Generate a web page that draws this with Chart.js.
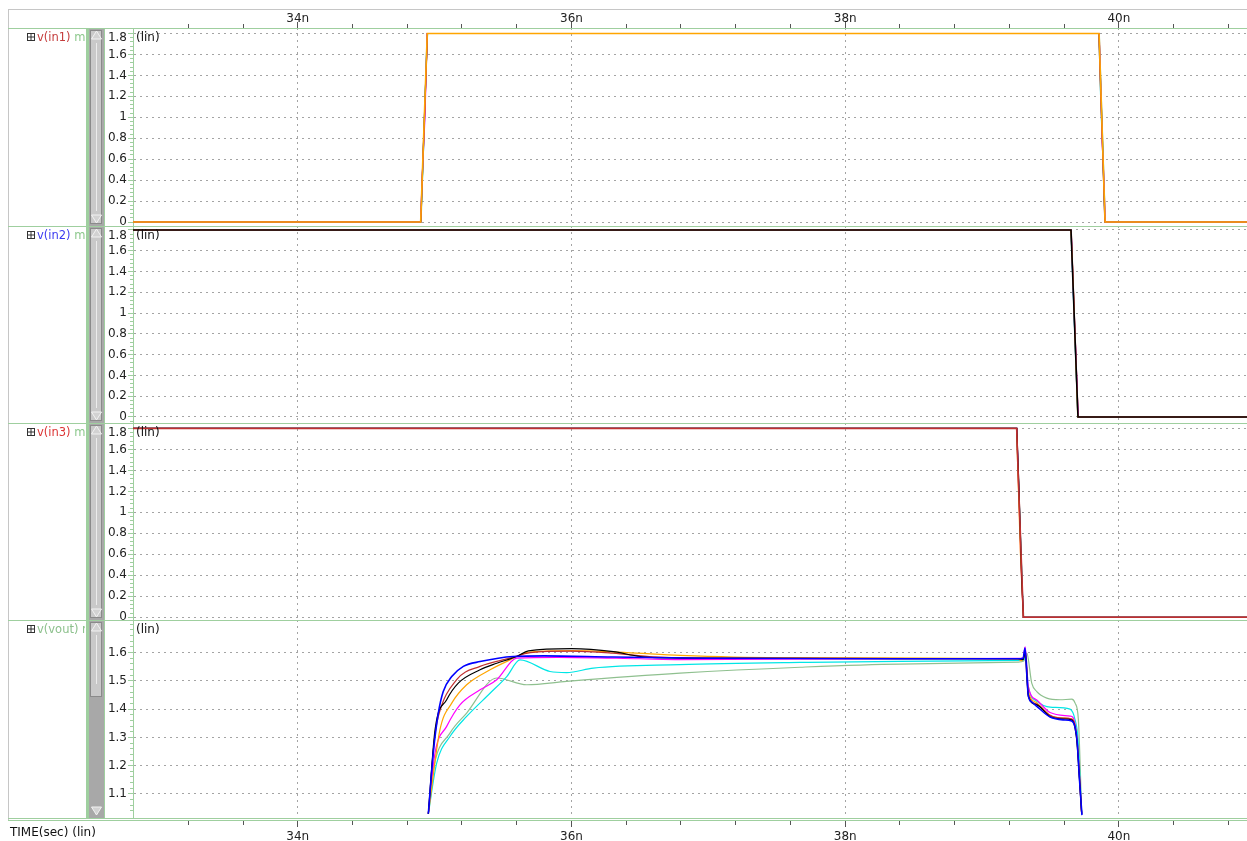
<!DOCTYPE html>
<html>
<head>
<meta charset="utf-8">
<script src="https://cdn.jsdelivr.net/npm/chart.js@4.4.0/dist/chart.umd.min.js"></script>
<style>
  html, body { margin: 0; padding: 0; background: #fff; }
  #wrap { position: relative; width: 1247px; height: 841px; overflow: hidden; }
  #wrap canvas { position: absolute; left: 0; }
</style>
</head>
<body>
<div id="wrap">
  <canvas id="p1" width="1247" height="226" style="top:0px"></canvas>
  <canvas id="p2" width="1247" height="197" style="top:226px"></canvas>
  <canvas id="p3" width="1247" height="197" style="top:423px"></canvas>
  <canvas id="p4" width="1247" height="221" style="top:620px"></canvas>
</div>
<script>
// --- data (time in ns, voltage in V) ---
const X_MIN = 32.796, X_MAX = 40.936;
const X_MAJOR = [34, 36, 38, 40];
const X_LABELS = ['34n', '36n', '38n', '40n'];

const Y_IN_TICKS = [0, 0.2, 0.4, 0.6, 0.8, 1, 1.2, 1.4, 1.6, 1.8];
const Y_IN_LABELS = ['0', '0.2', '0.4', '0.6', '0.8', '1', '1.2', '1.4', '1.6', '1.8'];
const Y_OUT_TICKS = [1.1, 1.2, 1.3, 1.4, 1.5, 1.6];
const Y_OUT_LABELS = ['1.1', '1.2', '1.3', '1.4', '1.5', '1.6'];

// v(in1)
const IN1_ORANGE  = [[32.7,0],[34.898,0],[34.946,1.8],[39.855,1.8],[39.899,0],[41,0]];
const IN1_RED     = [[32.7,0],[34.900,0],[34.915,0.62],[34.924,0.9],[34.948,1.8],[39.853,1.8],[39.866,1.25],[39.873,1.0],[39.897,0],[41,0]];
const IN1_MAGENTA = [[32.7,0],[34.897,0],[34.910,0.45],[34.930,1.02],[34.945,1.8],[39.856,1.8],[39.878,0.75],[39.889,0.45],[39.900,0],[41,0]];
const IN1_CYAN    = [[32.7,0],[34.899,0],[34.926,0.95],[34.940,1.6],[34.949,1.8],[39.854,1.8],[39.864,1.3],[39.870,1.05],[39.884,0.6],[39.898,0],[41,0]];
const IN1_GREEN   = [[32.7,0],[34.901,0],[34.947,1.8],[39.857,1.8],[39.901,0],[41,0]];
const IN1_BLACK   = [[32.7,0],[34.899,0],[34.947,1.8],[39.855,1.8],[39.899,0],[41,0]];
const IN1_BLUE    = [[32.7,0],[34.898,0],[34.947,1.8],[39.855,1.8],[39.898,0],[41,0]];

// v(in2)
const IN2_BLACK   = [[32.7,1.8],[39.650,1.8],[39.701,0],[41,0]];
const IN2_ORANGE  = [[32.7,1.8],[39.649,1.8],[39.657,1.58],[39.668,1.2],[39.699,0],[41,0]];
const IN2_MAGENTA = [[32.7,1.8],[39.651,1.8],[39.674,0.98],[39.686,0.58],[39.702,0],[41,0]];
const IN2_RED     = [[32.7,1.8],[39.652,1.8],[39.680,0.8],[39.703,0],[41,0]];
const IN2_CYAN    = [[32.7,1.8],[39.650,1.8],[39.690,0.36],[39.700,0],[41,0]];
const IN2_GREEN   = [[32.7,1.8],[39.651,1.8],[39.702,0],[41,0]];
const IN2_BLUE    = [[32.7,1.8],[39.650,1.8],[39.700,0],[41,0]];

// v(in3)
const IN3_RED     = [[32.7,1.8],[39.253,1.8],[39.262,1.45],[39.275,0.98],[39.302,0],[41,0]];
const IN3_BLACK   = [[32.7,1.8],[39.254,1.8],[39.258,1.65],[39.268,1.3],[39.290,0.35],[39.303,0],[41,0]];
const IN3_ORANGE  = [[32.7,1.8],[39.252,1.8],[39.280,0.62],[39.301,0],[41,0]];
const IN3_MAGENTA = [[32.7,1.8],[39.254,1.8],[39.283,0.55],[39.292,0.28],[39.302,0],[41,0]];
const IN3_GREEN   = [[32.7,1.8],[39.253,1.8],[39.300,0.05],[39.303,0],[41,0]];
const IN3_CYAN    = [[32.7,1.8],[39.253,1.8],[39.302,0],[41,0]];
const IN3_BLUE    = [[32.7,1.8],[39.253,1.8],[39.301,0],[41,0]];

// v(vout)
const VOUT_BLUE    = [[34.954,1.03],[34.990,1.245],[35.027,1.386],[35.063,1.462],[35.125,1.515],[35.210,1.551],[35.332,1.568],[35.575,1.586],[35.80,1.588],[36.30,1.584],[37.0,1.580],[38.4,1.578],[39.263,1.578],[39.300,1.580],[39.314,1.616],[39.326,1.53],[39.338,1.448],[39.363,1.425],[39.400,1.410],[39.497,1.372],[39.594,1.362],[39.655,1.358],[39.680,1.335],[39.694,1.29],[39.712,1.15],[39.730,1.025]];
const VOUT_BLACK   = [[34.954,1.03],[35.003,1.327],[35.088,1.433],[35.173,1.492],[35.332,1.539],[35.454,1.562],[35.600,1.586],[35.685,1.606],[36.002,1.614],[36.306,1.603],[36.501,1.586],[36.793,1.580],[38.4,1.578],[39.263,1.578],[39.300,1.575],[39.316,1.600],[39.338,1.445],[39.400,1.415],[39.497,1.374],[39.594,1.365],[39.655,1.362],[39.692,1.290],[39.712,1.15],[39.728,1.03]];
const VOUT_RED     = [[34.954,1.03],[35.000,1.30],[35.027,1.374],[35.161,1.504],[35.332,1.551],[35.550,1.580],[35.700,1.600],[36.000,1.605],[36.300,1.598],[36.600,1.585],[37.000,1.580],[39.263,1.578],[39.300,1.578],[39.316,1.605],[39.338,1.452],[39.400,1.418],[39.497,1.378],[39.594,1.368],[39.655,1.365],[39.692,1.30],[39.728,1.03]];
const VOUT_ORANGE  = [[34.954,1.03],[35.039,1.327],[35.125,1.421],[35.234,1.486],[35.405,1.539],[35.551,1.574],[35.673,1.600],[36.000,1.607],[36.400,1.600],[36.793,1.590],[37.500,1.582],[39.263,1.577],[39.290,1.571],[39.312,1.588],[39.338,1.462],[39.400,1.422],[39.497,1.378],[39.594,1.368],[39.655,1.366],[39.692,1.30],[39.728,1.03]];
const VOUT_MAGENTA = [[34.954,1.03],[35.003,1.245],[35.088,1.339],[35.185,1.415],[35.332,1.468],[35.454,1.504],[35.600,1.580],[35.900,1.583],[36.500,1.578],[36.793,1.575],[37.500,1.577],[39.263,1.579],[39.300,1.581],[39.315,1.620],[39.338,1.480],[39.400,1.432],[39.497,1.388],[39.643,1.375],[39.665,1.370],[39.695,1.29],[39.728,1.03]];
const VOUT_CYAN    = [[34.954,1.03],[35.015,1.209],[35.112,1.303],[35.234,1.374],[35.405,1.456],[35.527,1.515],[35.624,1.574],[35.843,1.533],[35.965,1.529],[36.160,1.545],[36.793,1.557],[37.670,1.565],[38.400,1.569],[39.263,1.572],[39.305,1.575],[39.318,1.600],[39.338,1.480],[39.400,1.428],[39.497,1.407],[39.643,1.400],[39.680,1.362],[39.700,1.30],[39.728,1.03]];
const VOUT_GREEN   = [[34.954,1.03],[34.990,1.185],[35.112,1.315],[35.234,1.386],[35.454,1.510],[35.673,1.486],[35.965,1.498],[36.793,1.527],[37.670,1.548],[38.400,1.559],[39.263,1.566],[39.305,1.570],[39.327,1.598],[39.363,1.492],[39.400,1.462],[39.473,1.439],[39.570,1.433],[39.655,1.435],[39.680,1.421],[39.704,1.362],[39.728,1.03]];

// --- styles ---
const COLORS = {
  red: '#c03030', black: '#000000', orange: '#ffa500', magenta: '#ff00ff',
  cyan: '#00e6e6', green: '#8fc08f', blue: '#0000ff'
};
const GREEN_LINE = '#9fcf9f';
const GRID = '#a4a4a4';

Chart.defaults.font.family = '"DejaVu Sans", sans-serif';
Chart.defaults.font.size = 12;
Chart.defaults.color = '#222';

// 先頭のデータセットが一番上に描かれる
const PANELS = [
  { id: 'p1', name: 'v(in1)', nameColor: '#c43c3c', tail: ' m', tailColor: '#8cc88c',
    yMin: -0.038, yMax: 1.8525, ticks: Y_IN_TICKS, labels: Y_IN_LABELS, minorStep: 0.04,
    axis: 'top', padTop: 10, axisH: 18, tickPad: 2, first: true,
    series: [['orange', IN1_ORANGE], ['red', IN1_RED], ['magenta', IN1_MAGENTA], ['cyan', IN1_CYAN],
             ['green', IN1_GREEN], ['black', IN1_BLACK], ['blue', IN1_BLUE]] },
  { id: 'p2', name: 'v(in2)', nameColor: '#3a3af0', tail: ' m', tailColor: '#8cc88c',
    yMin: -0.058, yMax: 1.8385, ticks: Y_IN_TICKS, labels: Y_IN_LABELS, minorStep: 0.04,
    axis: 'none', padTop: 0, axisH: 0, tickPad: 0,
    series: [['black', IN2_BLACK], ['orange', IN2_ORANGE], ['magenta', IN2_MAGENTA], ['red', IN2_RED],
             ['cyan', IN2_CYAN], ['green', IN2_GREEN], ['blue', IN2_BLUE]] },
  { id: 'p3', name: 'v(in3)', nameColor: '#dc3434', tail: ' m', tailColor: '#8cc88c',
    yMin: -0.026, yMax: 1.852, ticks: Y_IN_TICKS, labels: Y_IN_LABELS, minorStep: 0.04,
    axis: 'none', padTop: 0, axisH: 0, tickPad: 0,
    series: [['red', IN3_RED], ['black', IN3_BLACK], ['orange', IN3_ORANGE], ['magenta', IN3_MAGENTA],
             ['green', IN3_GREEN], ['cyan', IN3_CYAN], ['blue', IN3_BLUE]] },
  { id: 'p4', name: 'v(vout)', nameColor: '#8cc08c', tail: ' n', tailColor: '#8cc08c',
    yMin: 1.015, yMax: 1.715, ticks: Y_OUT_TICKS, labels: Y_OUT_LABELS, minorStep: 0.02,
    axis: 'bottom', padTop: 0, axisH: 23, tickPad: 12, last: true, thumbEnd: 77, noTopLabel: true,
    smooth: true,
    series: [['blue', VOUT_BLUE], ['black', VOUT_BLACK], ['red', VOUT_RED], ['orange', VOUT_ORANGE],
             ['magenta', VOUT_MAGENTA], ['cyan', VOUT_CYAN], ['green', VOUT_GREEN]] }
];

function drawArrow(ctx, tipY, baseY) {
  ctx.beginPath();
  ctx.moveTo(91.5, baseY);
  ctx.lineTo(101.5, baseY);
  ctx.lineTo(96.5, tipY);
  ctx.closePath();
  ctx.fillStyle = '#d2d2d2';
  ctx.fill();
  ctx.strokeStyle = '#f2f2f2';
  ctx.lineWidth = 1;
  ctx.stroke();
}

// --- 枠・スクロールバー・目盛りなどの装飾 ---
const framePlugin = {
  id: 'frame',
  afterDraw(chart, args, o) {
    const p = o.panel;
    const { ctx, width } = chart;
    const { top, bottom, left } = chart.chartArea;
    const ys = chart.scales.y, xs = chart.scales.x;
    ctx.save();

    // outer gray frame
    ctx.fillStyle = '#c6c6c6';
    const fTop = p.first ? 9 : 0;
    const fBot = p.last ? bottom + 3 : chart.height;
    ctx.fillRect(8, fTop, 1, fBot - fTop);
    if (p.first) ctx.fillRect(8, 9, width - 8, 1);

    // scrollbar
    ctx.fillStyle = '#a8a8a8';
    ctx.fillRect(89, top + 1, 15, bottom - top - 1);
    const t0 = top + 2, t1 = p.thumbEnd ? top + p.thumbEnd : bottom - 2;
    ctx.fillStyle = '#c9c9c9';
    ctx.fillRect(91, t0, 11, t1 - t0);
    ctx.strokeStyle = '#8a8a8a';
    ctx.lineWidth = 1;
    ctx.strokeRect(90.5, t0 + 0.5, 11, t1 - t0 - 1);
    ctx.strokeStyle = '#ececec';
    ctx.beginPath();
    ctx.moveTo(96.5, t0 + 13);
    ctx.lineTo(96.5, t1 - 13);
    ctx.stroke();
    drawArrow(ctx, top + 3, top + 11);
    drawArrow(ctx, bottom - 3, bottom - 11);

    // green lines
    ctx.fillStyle = GREEN_LINE;
    ctx.fillRect(86, top, 3, bottom - top);
    ctx.fillRect(104, top, 1, bottom - top);
    ctx.fillRect(8, top, width - 8, 1);
    if (p.last) {
      ctx.fillRect(8, bottom, width - 8, 1);
      ctx.fillRect(8, bottom + 2, width - 8, 1);
    }

    // y ticks
    for (let v = p.ticks[0] - 3 * p.minorStep; v < p.yMax; v += p.minorStep) {
      const y = Math.floor(ys.getPixelForValue(v));
      if (y > top + 1 && y < bottom) ctx.fillRect(left - 3, y, 3, 1);
    }
    ys.ticks.forEach(t => {
      const y = Math.floor(ys.getPixelForValue(t.value));
      ctx.fillRect(left - 5, y, 5, 1);
    });

    // x ticks
    ctx.fillStyle = '#555';
    const xMinor = [];
    for (let v = 33.2; v < X_MAX; v += 0.4) xMinor.push(v);
    if (p.first || p.last) {
      xMinor.forEach(v => {
        const x = Math.floor(xs.getPixelForValue(v));
        if (p.first) ctx.fillRect(x, top - 4, 1, 4);
        else ctx.fillRect(x, bottom + 3, 1, 4);
      });
      X_MAJOR.forEach(v => {
        const x = Math.floor(xs.getPixelForValue(v));
        if (p.first) ctx.fillRect(x, top - 6, 1, 6);
        else ctx.fillRect(x, bottom + 3, 1, 6);
      });
    }

    // texts
    const ly = top + 10;
    ctx.font = '12px "DejaVu Sans", sans-serif';
    ctx.textBaseline = 'middle';
    ctx.textAlign = 'left';
    ctx.fillStyle = '#111';
    ctx.fillText('(lin)', left + 3, ly);
    if (!p.noTopLabel) {
      ctx.textAlign = 'right';
      ctx.fillStyle = '#222';
      ctx.fillText(p.labels[p.labels.length - 1], left - 6, ly);
    }
    if (p.last) {
      ctx.textAlign = 'left';
      ctx.fillStyle = '#111';
      ctx.fillText('TIME(sec) (lin)', 10, bottom + 15);
    }

    // signal name (clipped at the green line)
    ctx.save();
    ctx.beginPath();
    ctx.rect(9, top + 1, 76, bottom - top - 1);
    ctx.clip();
    ctx.strokeStyle = '#333';
    ctx.lineWidth = 1;
    ctx.strokeRect(27.5, ly - 4.5, 7, 7);
    ctx.beginPath();
    ctx.moveTo(31, ly - 4); ctx.lineTo(31, ly + 2);
    ctx.moveTo(28, ly - 1); ctx.lineTo(34, ly - 1);
    ctx.stroke();
    ctx.font = '11.5px "DejaVu Sans", sans-serif';
    ctx.textAlign = 'left';
    ctx.fillStyle = p.nameColor;
    ctx.fillText(p.name, 37, ly);
    const w = ctx.measureText(p.name).width;
    ctx.fillStyle = p.tailColor;
    ctx.fillText(p.tail, 37 + w, ly);
    ctx.restore();

    ctx.restore();
  }
};

function makeChart(p) {
  return new Chart(document.getElementById(p.id), {
    type: 'line',
    data: {
      datasets: p.series.map(([c, pts], i) => ({
        data: pts.map(([x, y]) => ({ x, y })),
        borderColor: COLORS[c],
        borderWidth: i === 0 ? 1.6 : 1.2,
        pointRadius: 0,
        tension: p.smooth ? 0.4 : 0,
        cubicInterpolationMode: p.smooth ? 'monotone' : 'default',
        fill: false
      }))
    },
    options: {
      responsive: false,
      animation: false,
      devicePixelRatio: 1,
      events: [],
      layout: { padding: { left: 104, top: p.padTop, right: 0, bottom: 0 }, autoPadding: false },
      plugins: {
        legend: { display: false },
        tooltip: { enabled: false },
        frame: { panel: p }
      },
      scales: {
        x: {
          type: 'linear',
          position: p.axis === 'top' ? 'top' : 'bottom',
          min: X_MIN, max: X_MAX,
          afterBuildTicks: s => { s.ticks = X_MAJOR.map(v => ({ value: v })); },
          afterFit: s => { s.height = p.axisH; s.paddingLeft = 0; s.paddingRight = 0; },
          grid: { color: GRID, drawTicks: false },
          border: { display: false, dash: [2, 4] },
          ticks: {
            display: p.axis !== 'none', autoSkip: false, maxRotation: 0,
            padding: p.tickPad, color: '#222',
            callback: (v, i) => X_LABELS[i]
          }
        },
        y: {
          type: 'linear',
          min: p.yMin, max: p.yMax,
          afterBuildTicks: s => { s.ticks = p.ticks.map(v => ({ value: v })); },
          afterFit: s => { s.width = 29; s.paddingTop = 0; s.paddingBottom = 0; },
          grid: { color: GRID, drawTicks: false },
          border: { display: true, color: GREEN_LINE, dash: [2, 4] },
          ticks: {
            autoSkip: false, padding: 6, color: '#222',
            callback: (v, i) => (!p.noTopLabel && i === p.labels.length - 1) ? '' : p.labels[i]
          }
        }
      }
    },
    plugins: [framePlugin]
  });
}

PANELS.forEach(makeChart);
</script>
</body>
</html>
